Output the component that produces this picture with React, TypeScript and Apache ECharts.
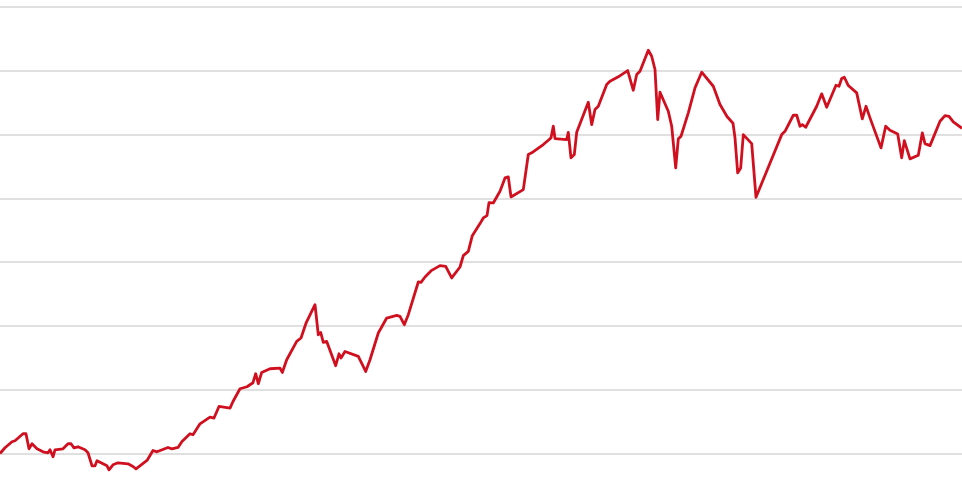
import React, { useEffect, useRef } from "react";
import * as echarts from "echarts";

// Time index (position along the period) and index level
const timeIndex: number[] = [
  0, 5, 12, 15, 23, 26, 29, 32, 37, 43, 48, 50, 53, 55, 63, 68, 71, 74, 78, 85,
  88, 92, 95, 97, 103, 107, 109, 113, 118, 128, 133, 136, 147, 153, 157, 168, 172, 178, 182, 190,
  193, 200, 210, 214, 219, 230, 233, 240, 247, 253, 255.7, 258.3, 261.7, 270, 280, 282.3, 286.7, 296.7, 301, 306,
  315, 318.3, 320.7, 323.3, 326.7, 335.7, 339, 341, 345, 358.3, 365.7, 370, 378.3, 386.7, 396.7, 400, 404.3, 408.3, 418.3, 421,
  425, 431.7, 440, 445.7, 451.7, 460, 463.3, 468.3, 472.3, 480, 483.3, 487, 489, 493.3, 500, 505, 508.3, 511, 523.3, 528.3,
  531.7, 543.3, 548.3, 551, 553.3, 555, 566.7, 568.3, 571, 574.3, 576.7, 588.3, 591.7, 595, 598.3, 606.7, 610, 618.3, 627.7, 633.3,
  636.7, 640, 648.3, 651.7, 655, 657.7, 660, 668.3, 671.7, 675.7, 678.3, 681, 688.3, 695, 701.7, 713.3, 720, 727, 733, 735,
  737.7, 740.7, 743.3, 751.7, 756, 781.7, 785, 793.3, 796.7, 800, 802.3, 805.7, 816.7, 821.7, 826.7, 836, 839, 841.7, 844.3, 848.3,
  856.7, 862.3, 866, 870, 881, 885.7, 890, 897.7, 901.7, 904.3, 910, 918.3, 922.3, 925, 930, 940, 945, 949, 953.3, 962,
];

const indexLevel: number[] = [
  100.2, 109.1, 118.5, 120.1, 131.1, 131.1, 107.5, 115.4, 107.5, 102.8, 101.3, 106.0, 95.0, 106.0, 107.5, 115.4, 115.4, 109.1, 110.7, 106.0,
  101.3, 80.9, 80.9, 88.7, 84.0, 80.9, 74.6, 82.4, 85.6, 84.0, 79.8, 76.2, 89.2, 104.9, 102.8, 109.6, 107.5, 109.6, 119.0, 131.1,
  129.5, 146.7, 157.3, 155.7, 173.9, 171.4, 181.7, 201.6, 204.8, 211.1, 225.2, 209.5, 227.2, 233.0, 234.1, 227.2, 247.1, 275.8, 281.2, 304.4,
  333.4, 286.3, 289.9, 274.3, 275.8, 237.7, 256.5, 249.8, 260.1, 252.3, 228.8, 247.1, 289.0, 312.5, 316.6, 315.0, 302.0, 317.7, 369.0, 368.4,
  376.8, 387.2, 394.6, 393.5, 375.3, 392.5, 410.3, 417.0, 441.6, 460.5, 469.4, 473.0, 493.4, 492.9, 511.1, 532.1, 533.7, 502.3, 513.8, 568.7,
  571.4, 584.4, 591.1, 594.9, 613.1, 593.8, 592.2, 603.6, 563.5, 568.7, 603.6, 650.7, 615.7, 639.3, 644.4, 678.5, 683.6, 690.5, 700.4, 669.5,
  694.1, 699.3, 732.3, 722.8, 702.0, 623.6, 666.4, 636.6, 613.1, 547.8, 593.3, 597.4, 634.1, 673.3, 697.8, 675.8, 647.1, 628.3, 617.8, 594.9,
  540.0, 547.8, 600.0, 585.9, 501.7, 600.0, 605.2, 630.3, 630.3, 613.1, 615.7, 611.5, 644.4, 663.9, 642.9, 677.4, 675.8, 687.9, 689.9, 676.9,
  665.4, 624.7, 644.4, 626.2, 579.2, 613.1, 606.8, 601.1, 563.5, 590.6, 561.9, 567.5, 602.7, 585.9, 582.7, 620.9, 629.8, 628.7, 619.9, 609.8,
];

const yMin = 0;
const yMax = 800;
const yStep = 100;

export default function App() {
  const ref = useRef<HTMLDivElement>(null);

  useEffect(() => {
    if (!ref.current) return;
    const chart = echarts.init(ref.current, undefined, { renderer: "svg" });
    const seriesData = timeIndex.map((t, i) => [t, indexLevel[i]]);
    chart.setOption({
      animation: false,
      backgroundColor: "#ffffff",
      grid: {
        left: 0,
        right: 0,
        top: 7,
        height: 510.4,
        containLabel: false,
        outerBoundsMode: "none",
      },
      xAxis: {
        type: "value",
        min: 0,
        max: 962,
        show: false,
      },
      yAxis: {
        type: "value",
        min: yMin,
        max: yMax,
        interval: yStep,
        axisLabel: { show: false },
        axisLine: { show: false },
        axisTick: { show: false },
        splitLine: { show: true, lineStyle: { color: "#d6d6d6", width: 1.5 } },
      },
      series: [
        {
          type: "line",
          data: seriesData,
          showSymbol: false,
          symbol: "none",
          lineStyle: { color: "#d0101f", width: 2.8, join: "round" },
          clip: false,
        },
      ],
    });
    return () => chart.dispose();
  }, []);

  return (
    <div
      ref={ref}
      style={{ position: "fixed", left: 0, top: 0, width: 962, height: 503 }}
    />
  );
}
